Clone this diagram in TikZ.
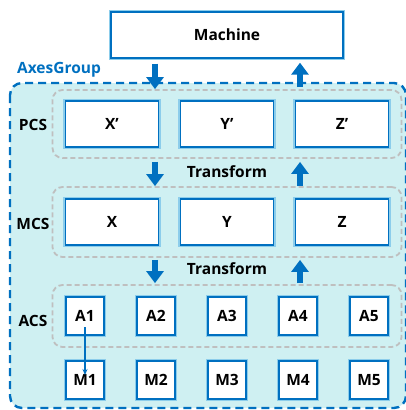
\documentclass[tikz,border=0pt]{standalone}
\usepackage{fontspec}
\setmainfont{Open Sans}
\usepackage{tikz}
\usetikzlibrary{positioning,arrows.meta}

\definecolor{acsblue}{RGB}{0,112,192}
\definecolor{groupfill}{RGB}{207,240,242}
\definecolor{glowblue}{RGB}{140,205,235}

\begin{document}
\begin{tikzpicture}[x=1pt, y=-1pt,
    every node/.style={font=\fontsize{15.5}{18}\selectfont\bfseries},
    axisbox/.style={draw=acsblue, line width=1.4pt, fill=white, inner sep=0pt,
        preaction={draw=glowblue, line width=4.5pt}},
    widebox/.style={axisbox, minimum width=93pt, minimum height=46pt},
    smallbox/.style={axisbox, minimum width=38pt, minimum height=38pt},
    csgroup/.style={draw=gray!50, dash pattern=on 5pt off 3pt, line width=1.8pt,
        rounded corners=10pt, inner sep=0pt, minimum width=349pt},
    bigarrow/.style={acsblue, line width=6pt, -{Triangle[width=17pt,length=12pt]}},
    thinarrow/.style={acsblue, line width=1.2pt, -{Stealth[length=6pt,width=5pt]}}]

\useasboundingbox (0,0) rectangle (406,410);

% Axes group
\draw[acsblue, fill=groupfill, dash pattern=on 8pt off 5pt, line width=2.4pt,
    rounded corners=12pt] (10,83) rectangle (406,408);
\node[acsblue] (grouplabel) at (59,70) {AxesGroup};

% Machine
\node[axisbox, minimum width=232pt, minimum height=46pt] (machine) at (227,35) {Machine};

% Coordinate systems
\node[csgroup, minimum height=68pt] (pcs) at (227,124) {};
\node[csgroup, minimum height=70pt] (mcs) at (227,222) {};
\node[csgroup, minimum height=62pt] (acs) at (227,316) {};

\node (pcslabel) at (33,125) {PCS};
\node (mcslabel) at (33,224) {MCS};
\node (acslabel) at (33,321) {ACS};

% PCS axes
\node[widebox] (xp) at (112,124) {X'};
\node[widebox] (yp) at (227,124) {Y'};
\node[widebox] (zp) at (342,124) {Z'};

% MCS axes
\node[widebox] (x) at (112,222) {X};
\node[widebox] (y) at (227,222) {Y};
\node[widebox] (z) at (342,222) {Z};

% ACS axes
\node[smallbox] (a1) at (85,316) {A1};
\node[smallbox] (a2) at (156,316) {A2};
\node[smallbox] (a3) at (227,316) {A3};
\node[smallbox] (a4) at (298,316) {A4};
\node[smallbox] (a5) at (369,316) {A5};

% Motors
\node[smallbox] (m1) at (85,380) {M1};
\node[smallbox] (m2) at (156,380) {M2};
\node[smallbox] (m3) at (227,380) {M3};
\node[smallbox] (m4) at (298,380) {M4};
\node[smallbox] (m5) at (369,380) {M5};

% Transforms
\node (trans1) at (227,172) {Transform};
\node (trans2) at (227,269) {Transform};

% Arrows
\draw[bigarrow, shorten <=5pt] ([xshift=-72pt]machine.south) -- ([xshift=-72pt]pcs.north);
\draw[bigarrow, shorten <=2pt, shorten >=4pt] ([xshift=73pt]pcs.north) -- ([xshift=73pt]machine.south);

\draw[bigarrow, shorten <=3pt] ([xshift=-72pt]pcs.south) -- ([xshift=-72pt]mcs.north);
\draw[bigarrow, shorten >=3pt] ([xshift=73pt]mcs.north) -- ([xshift=73pt]pcs.south);

\draw[bigarrow, shorten <=2pt, shorten >=1pt] ([xshift=-72pt]mcs.south) -- ([xshift=-72pt]acs.north);
\draw[bigarrow, shorten <=1pt, shorten >=2pt] ([xshift=73pt]acs.north) -- ([xshift=73pt]mcs.south);

\draw[thinarrow, shorten <=11pt, shorten >=5pt] (a1.center) -- (m1.center);

\end{tikzpicture}
\end{document}
